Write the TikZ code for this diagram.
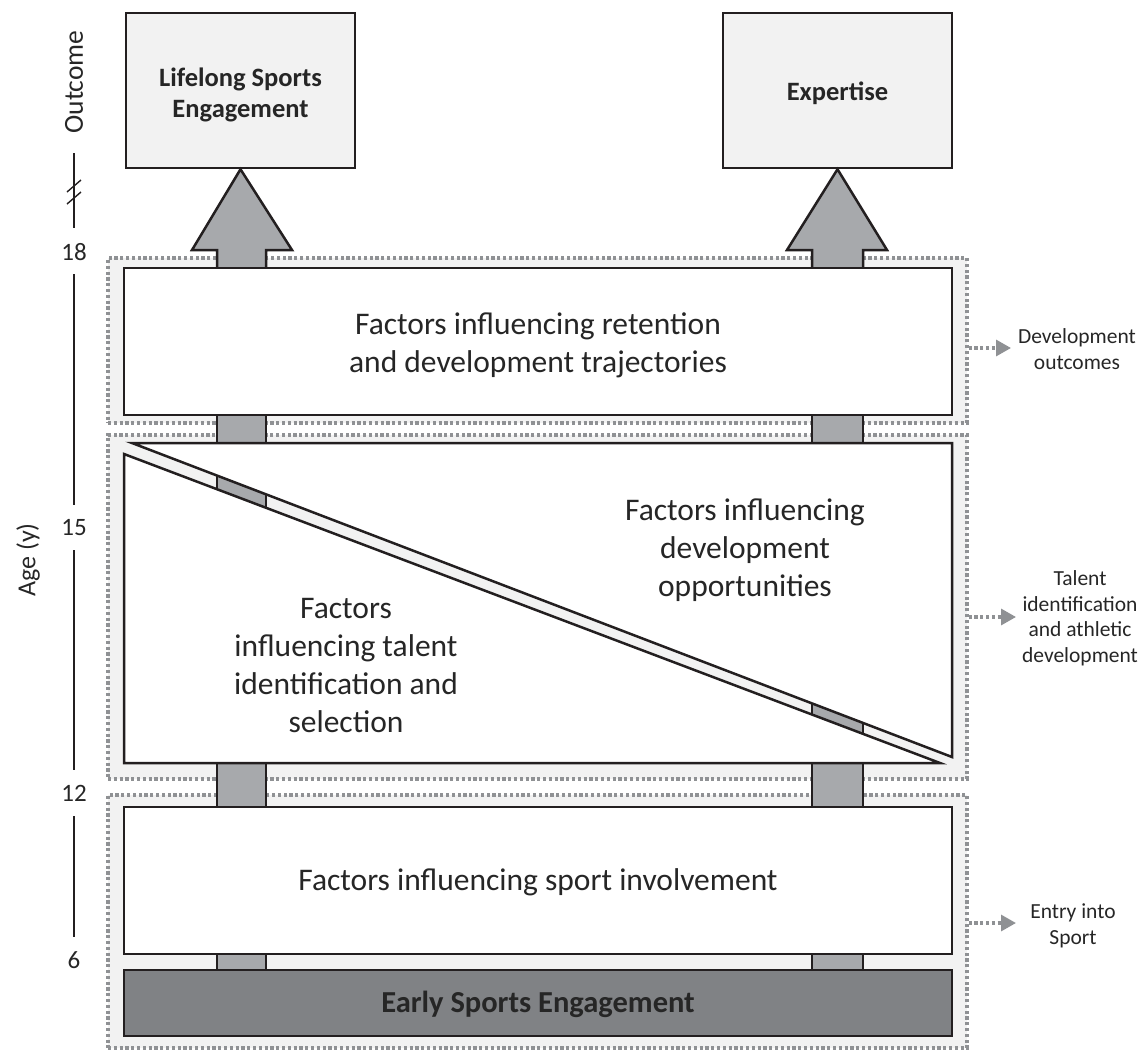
\documentclass[tikz,border=0pt]{standalone}
\usepackage{fontspec}
\setmainfont{Carlito}
\usetikzlibrary{arrows.meta}
\definecolor{bord}{HTML}{231F20}
\definecolor{lite}{HTML}{F2F2F2}
\definecolor{dotc}{HTML}{8F9194}
\definecolor{shaftc}{HTML}{A7A9AC}
\definecolor{darkc}{HTML}{808285}
\definecolor{txt}{HTML}{262626}
\newcommand\fmain{\fontsize{31.5}{38}\selectfont}
\newcommand\fbold{\bfseries\fontsize{26.5}{30.5}\selectfont}
\newcommand\fearly{\bfseries\fontsize{30.5}{36}\selectfont}
\newcommand\faxis{\fontsize{25}{30}\selectfont}
\newcommand\fside{\fontsize{21.5}{25.5}\selectfont}
\begin{document}
\begin{tikzpicture}[x=1pt,y=-1pt,
  grp/.style={fill=lite, draw=dotc, line width=3.2pt, dash pattern=on 3.2pt off 2.6pt, inner sep=0pt},
  wbox/.style={fill=white, draw=bord, line width=2.5pt, inner sep=0pt, minimum width=828pt},
  outbox/.style={fill=lite, draw=bord, line width=2.5pt, inner sep=0pt, minimum width=229pt, minimum height=155pt},
  outtext/.style={text=txt, font=\fbold, align=center, inner sep=0pt},
  bigarrow/.style={fill=shaftc, draw=bord, line width=2.5pt, line join=miter},
  shaftside/.style={draw=bord, line width=2.5pt},
  maintext/.style={text=txt, font=\fmain, align=center, inner sep=0pt},
  sidetext/.style={text=txt, font=\fside, align=center, inner sep=0pt},
  axistext/.style={text=txt, font=\faxis, inner sep=0pt},
  axisline/.style={draw=bord, line width=1.4pt},
  dotarrow/.style={draw=dotc, line width=3.2pt, dash pattern=on 3.2pt off 2.6pt, -{Triangle[length=15pt,width=16pt]}}
]
\useasboundingbox (0,0) rectangle (1148,1050);

% group panels
\node[grp, minimum width=859pt, minimum height=165pt] (g1) at (537.5,340.5) {};
\node[grp, minimum width=859pt, minimum height=344pt] (g2) at (537.5,607) {};
\node[grp, minimum width=859pt, minimum height=253pt] (g3) at (537.5,921.5) {};

% outcome boxes
\node[outbox] (life) at (240.5,90.5) {};
\node[outbox] (expert) at (837.5,90.5) {};
\node[outtext] (lifet) at (240.5,95) {Lifelong Sports\\Engagement};
\node[outtext] (expertt) at (837.5,93) {Expertise};

% big arrows
\draw[bigarrow] (217,268) -- (217,250) -- (192,250) -- (life.south) -- (292,250) -- (266,250) -- (266,268);
\draw[bigarrow] (812,268) -- (812,250) -- (787,250) -- (expert.south) -- (887,250) -- (863,250) -- (863,268);

% shafts between boxes
\foreach \xa/\xb in {217/266, 812/863}{
  \foreach \ya/\yb in {415/443, 763/807, 954/970}{
    \fill[shaftc] (\xa,\ya) rectangle (\xb,\yb);
    \draw[shaftside] (\xa,\ya) -- (\xa,\yb) (\xb,\ya) -- (\xb,\yb);
  }
}

% shaft pieces in the diagonal strip
\fill[shaftc] (217,475.6) -- (266,494.3) -- (266,507.8) -- (217,489.2) -- cycle;
\draw[shaftside] (217,475.6) -- (217,489.2) (266,494.3) -- (266,507.8);
\fill[shaftc] (812,703.4) -- (863,723.0) -- (863,733.9) -- (812,714.5) -- cycle;
\draw[shaftside] (812,703.4) -- (812,714.5) (863,723.0) -- (863,733.9);

% white boxes
\node[wbox, minimum height=147pt] (b1) at (538,341.5) {};
\node[wbox, minimum height=147pt] (b3) at (538,880.5) {};
\node[wbox, fill=darkc, minimum height=66pt] (early) at (538,1003) {};
\draw[fill=white, draw=bord, line width=2.5pt, line join=miter] (132,443) -- (952,443) -- (952,757) -- cycle;
\draw[fill=white, draw=bord, line width=2.5pt, line join=miter] (124,454) -- (124,763) -- (940,763) -- cycle;

% texts
\node[maintext] (t1) at (538,345) {Factors influencing retention\\and development trajectories};
\node[maintext] (t2r) at (745,550) {Factors influencing\\development\\opportunities};
\node[maintext] (t2l) at (346,665) {Factors\\influencing talent\\identification and\\selection};
\node[maintext] (t3) at (538,882) {Factors influencing sport involvement};
\node[text=txt, font=\fearly, inner sep=0pt] (et) at (538,1004) {Early Sports Engagement};

% age axis
\node[axistext, rotate=90, font=\fontsize{27.5}{30}\selectfont] (outc) at (74,82) {Outcome};
\node[axistext] (n18) at (74,252) {18};
\node[axistext] (n15) at (74,528) {15};
\node[axistext] (n12) at (74,793) {12};
\node[axistext] (n6) at (74,960) {6};
\node[axistext, rotate=90, font=\fontsize{26}{30}\selectfont] (age) at (28,560) {Age (y)};
\coordinate (ax0) at (74,153);
\coordinate (ax1) at (74,228);
\draw[axisline] (ax0) -- (ax1);
\draw[axisline] (67,192) -- (81,180) (67,204) -- (81,192);
\coordinate (a18b) at (74,274);
\coordinate (a15t) at (74,505);
\coordinate (a15b) at (74,550);
\coordinate (a12t) at (74,770);
\coordinate (a12b) at (74,816);
\coordinate (a6t) at (74,937);
\draw[axisline] (a18b) -- (a15t);
\draw[axisline] (a15b) -- (a12t);
\draw[axisline] (a12b) -- (a6t);

% side labels
\node[sidetext] (l1) at (1077,349) {Development\\outcomes};
\node[sidetext] (l2) at (1080,618.5) {Talent\\identification\\and athletic\\development};
\node[sidetext] (l3) at (1073,926) {Entry into\\Sport};
\coordinate (e1) at (1011,348);
\coordinate (e2) at (1016,617);
\coordinate (e3) at (1016,923);
\draw[dotarrow] (g1.east |- e1) -- (e1);
\draw[dotarrow] (g2.east |- e2) -- (e2);
\draw[dotarrow] (g3.east |- e3) -- (e3);
\end{tikzpicture}
\end{document}
